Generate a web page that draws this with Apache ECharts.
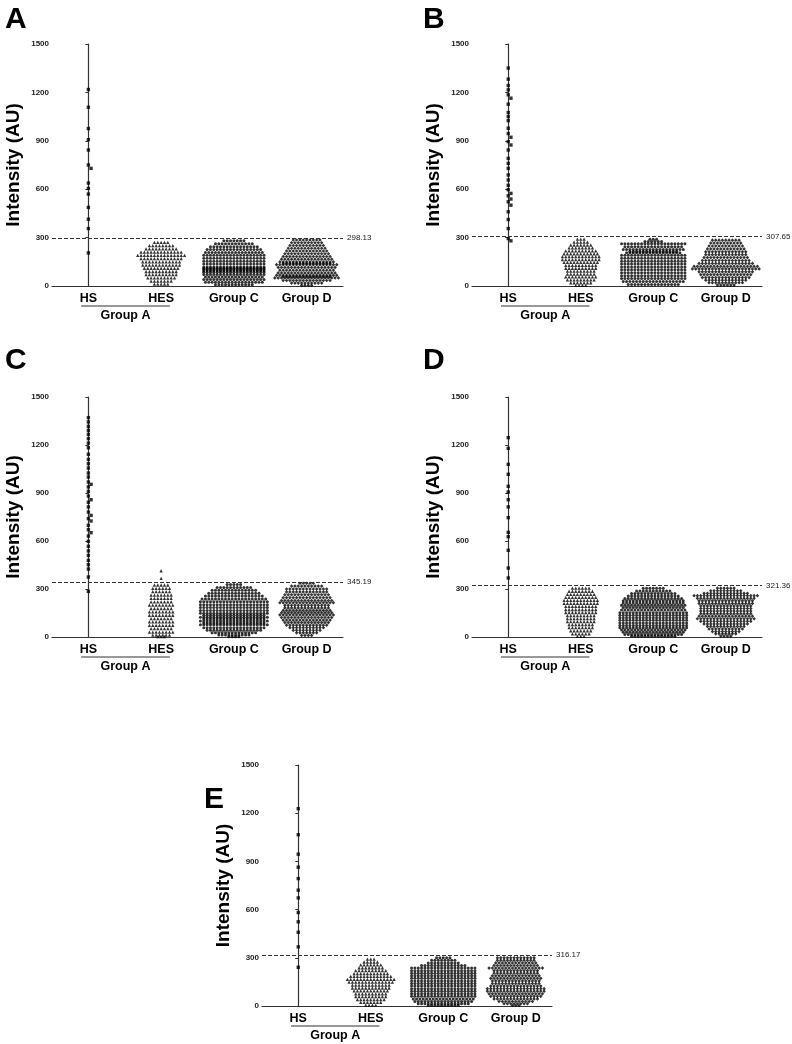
<!DOCTYPE html>
<html><head><meta charset="utf-8">
<script src="https://cdn.jsdelivr.net/npm/echarts@6/dist/echarts.min.js"></script>
<style>html,body{margin:0;padding:0;background:#fff}#c{width:792px;height:1044px}</style>
</head><body><div id="c"></div>
<script>
// ---------- DATA ----------
const categories = ['HS', 'HES', 'Group C', 'Group D'];
const groupLabel = 'Group A';
const yTicks = [0, 300, 600, 900, 1200, 1500];
const panelLetters = ['A', 'B', 'C', 'D', 'E'];
const thresholds = [298.13, 307.65, 345.19, 321.36, 316.17];

// HS individual values
const A_HS = [1218, 1108, 976, 907, 843, 750, 729, 638, 605, 570, 487, 414, 356, 205];
const B_HS = [1351, 1282, 1243, 1216, 1185, 1164, 1127, 1075, 1050, 1025, 978, 945, 922, 895, 874, 843, 791, 760, 729, 688, 657, 624, 597, 574, 559, 539, 522, 501, 460, 412, 356, 294, 280];
const C_HS = [1371, 1344, 1317, 1292, 1267, 1240, 1212, 1183, 1142, 1110, 1083, 1056, 1025, 1000, 969, 954, 938, 910, 881, 858, 842, 813, 781, 760, 740, 725, 698, 671, 652, 631, 598, 567, 538, 510, 479, 452, 425, 375, 285];
const D_HS = [1246, 1179, 1079, 1017, 942, 906, 858, 813, 746, 654, 627, 542, 431, 369];
const E_HS = [1228, 1066, 945, 864, 793, 721, 673, 582, 524, 459, 368, 241];

// swarm rows: [value, number of points at that value]
const A_HES = [[270,5],[250,8],[230,10],[210,13],[190,15],[170,13],[150,12],[130,12],[110,11],[90,10],[70,10],[50,9],[30,7],[12,5]];
const A_C = [[280,7],[262,12],[244,15],[226,17],[208,18],[190,19],[172,19],[154,19],[136,19],[118,19],[110,19],[102,19],[94,19],[86,19],[72,19],[56,18],[40,19],[24,18],[8,12]];
const A_D = [[285,9],[268,10],[251,11],[234,12],[217,13],[200,14],[183,15],[166,16],[149,17],[140,15],[132,19],[115,18],[98,17],[81,18],[66,19],[58,15],[50,20],[34,15],[18,10],[4,4]];

const B_HES = [[290,3],[272,5],[254,7],[236,8],[218,10],[200,11],[182,12],[164,12],[146,11],[128,10],[110,10],[92,9],[74,9],[56,10],[38,9],[20,7],[4,4]];
const B_C = [[290,3],[276,6],[262,20],[244,18],[226,19],[214,15],[206,17],[190,20],[172,20],[154,20],[136,20],[118,20],[100,20],[82,20],[64,20],[46,20],[28,19],[10,16]];
const B_D = [[284,9],[266,10],[248,11],[230,12],[212,13],[194,13],[176,14],[158,15],[140,17],[122,20],[106,21],[88,17],[70,16],[52,15],[36,13],[20,11],[6,6]];

const C_HES = [[414,1],[367,1],[325,5],[304,6],[283,6],[262,7],[241,7],[220,7],[199,8],[178,7],[157,8],[136,8],[115,7],[94,8],[73,8],[52,7],[31,8],[12,6],[2,3]];
const C_C = [[328,5],[310,11],[292,14],[274,16],[256,18],[238,20],[220,21],[202,21],[184,21],[166,21],[148,21],[136,19],[124,21],[112,19],[100,21],[88,19],[76,21],[58,19],[42,17],[26,14],[12,10],[2,4]];
const C_D = [[336,5],[318,10],[300,13],[282,13],[264,14],[246,15],[228,16],[214,17],[198,14],[182,14],[166,15],[152,16],[138,17],[122,16],[106,15],[90,14],[74,13],[58,11],[42,9],[26,7],[10,4]];

const D_HES = [[305,6],[286,8],[267,9],[248,10],[229,11],[210,11],[191,10],[172,10],[153,10],[134,9],[115,9],[96,9],[77,8],[58,8],[39,7],[20,6],[4,3]];
const D_C = [[304,7],[288,11],[272,14],[256,16],[240,18],[226,19],[212,19],[198,20],[184,19],[168,20],[152,21],[136,21],[120,21],[104,21],[88,21],[72,21],[58,21],[44,20],[30,19],[16,18],[4,14]];
const D_D = [[305,6],[289,10],[273,14],[258,20],[242,18],[226,17],[210,17],[194,16],[178,16],[162,16],[146,16],[130,17],[114,18],[98,16],[82,14],[66,12],[50,11],[34,9],[20,7],[6,4]];

const E_HES = [[292,3],[274,5],[256,7],[238,8],[220,10],[202,11],[184,13],[166,15],[148,14],[130,12],[112,12],[94,11],[76,10],[58,10],[40,9],[22,7],[6,4]];
const E_C = [[300,5],[284,8],[268,10],[252,14],[236,20],[220,20],[204,20],[188,20],[172,20],[156,20],[140,20],[124,20],[108,20],[92,20],[76,20],[60,20],[44,19],[28,18],[14,16],[3,10]];
const E_D = [[300,12],[284,12],[268,13],[252,14],[236,17],[220,14],[204,14],[188,15],[172,16],[156,15],[140,15],[124,16],[108,18],[92,18],[76,17],[60,16],[44,14],[28,11],[14,8],[3,3]];

// ---------- LAYOUT / STYLE ----------
const hsSets = [A_HS, B_HS, C_HS, D_HS, E_HS];
const hesSets = [A_HES, B_HES, C_HES, D_HES, E_HES];
const cSets = [A_C, B_C, C_C, D_C, E_C];
const dSets = [A_D, B_D, C_D, D_D, E_D];
const grids = [
  {left: 52, top: 44, width: 291, height: 242},
  {left: 472, top: 44, width: 290, height: 242},
  {left: 52, top: 397, width: 291, height: 240},
  {left: 472, top: 397, width: 290, height: 240},
  {left: 262, top: 765, width: 290, height: 241}
];
const letterPos = [[0, 0], [418, 0], [0, 341], [418, 341], [199, 780]];
const FONT = '"Liberation Sans", Arial, sans-serif';
const INK = '#000';
const SP = 0.046; // horizontal spacing between neighbouring points (axis units)

function swarm(rows, cat) {
  const pts = [];
  rows.forEach(([v, n]) => {
    for (let j = 0; j < n; j++) pts.push([cat + (j - (n - 1) / 2) * SP, v]);
  });
  return pts;
}
function hsSwarm(vals, cat) {
  const placed = [];
  const coll = 24;
  vals.slice().sort((a, b) => b - a).forEach(v => {
    for (const k of [0, 1, -1, 2, -2]) {
      const x = k * SP * 0.8;
      const hit = placed.some(p => Math.abs(p[1] - v) < coll && Math.abs(p[0] - cat - x) < SP * 0.7);
      if (!hit) { placed.push([cat + x, v]); break; }
    }
  });
  return placed;
}

const option = {
  animation: false,
  backgroundColor: '#fff',
  title: [], grid: [], xAxis: [], yAxis: [], series: []
};

grids.forEach((g, k) => {
  option.title.push({
    text: panelLetters[k], left: letterPos[k][0], top: letterPos[k][1],
    textStyle: {fontFamily: FONT, fontSize: 30, fontWeight: 'bold', color: '#000'}
  });
  option.grid.push(Object.assign({containLabel: false}, g));
  option.xAxis.push({
    type: 'category', gridIndex: k, data: categories, boundaryGap: true,
    axisLine: {lineStyle: {color: '#333', width: 1.2}},
    axisTick: {alignWithLabel: true, length: 3, lineStyle: {color: '#333'}},
    axisLabel: {fontFamily: FONT, fontSize: 12.5, fontWeight: 'bold', color: INK, margin: 6, interval: 0},
    splitLine: {show: false}
  });
  option.xAxis.push({
    type: 'value', gridIndex: k, min: -0.5, max: 3.5, show: false, position: 'top'
  });
  option.yAxis.push({
    type: 'value', gridIndex: k, min: yTicks[0], max: yTicks[yTicks.length - 1],
    interval: yTicks[1] - yTicks[0],
    name: 'Intensity (AU)', nameLocation: 'middle', nameGap: 29,
    nameTextStyle: {fontFamily: FONT, fontSize: 19, fontWeight: 'bold', color: '#000'},
    axisLine: {show: true, lineStyle: {color: '#333', width: 1.2}},
    axisTick: {show: true, length: 3, lineStyle: {color: '#333'}},
    axisLabel: {fontFamily: FONT, fontSize: 8, fontWeight: 'bold', color: '#222', margin: 3,
      formatter: v => String(v)},
    splitLine: {show: false}
  });
  const xi = 2 * k + 1;
  option.series.push({
    type: 'scatter', xAxisIndex: xi, yAxisIndex: k, symbol: 'rect', symbolSize: 3.4,
    itemStyle: {color: INK}, data: hsSwarm(hsSets[k], 0),
    markLine: {
      silent: true, symbol: 'none',
      lineStyle: {type: [4, 2], color: '#333', width: 1},
      label: {position: 'end', distance: 4, fontFamily: FONT, fontSize: 8, color: '#222',
        formatter: () => thresholds[k].toFixed(2)},
      data: [{yAxis: thresholds[k]}]
    }
  });
  option.series.push({
    type: 'scatter', xAxisIndex: xi, yAxisIndex: k, symbol: 'triangle', symbolSize: 3.3,
    itemStyle: {color: INK}, data: swarm(hesSets[k], 1)
  });
  option.series.push({
    type: 'scatter', xAxisIndex: xi, yAxisIndex: k, symbol: 'circle', symbolSize: 3,
    itemStyle: {color: INK}, data: swarm(cSets[k], 2)
  });
  option.series.push({
    type: 'scatter', xAxisIndex: xi, yAxisIndex: k, symbol: 'diamond', symbolSize: [3.5, 3.7],
    itemStyle: {color: INK}, data: swarm(dSets[k], 3)
  });
});

const chart = echarts.init(document.getElementById('c'), null, {renderer: 'canvas'});
chart.setOption(option);

// "Group A" bracket under HS and HES, positioned through the axes
const graphics = [];
grids.forEach((g, k) => {
  const xi = 2 * k + 1;
  const x0 = chart.convertToPixel({xAxisIndex: xi}, -0.1);
  const x1 = chart.convertToPixel({xAxisIndex: xi}, 1.12);
  const y0 = chart.convertToPixel({yAxisIndex: k}, 0);
  graphics.push({
    type: 'line', shape: {x1: x0, y1: y0 + 20, x2: x1, y2: y0 + 20},
    style: {stroke: '#333', lineWidth: 1.2}, silent: true
  });
  graphics.push({
    type: 'text', x: (x0 + x1) / 2, y: y0 + 30,
    style: {text: groupLabel, font: 'bold 12.5px ' + FONT, fill: INK, align: 'center', verticalAlign: 'middle'},
    silent: true
  });
});
chart.setOption({graphic: graphics});
</script></body></html>
